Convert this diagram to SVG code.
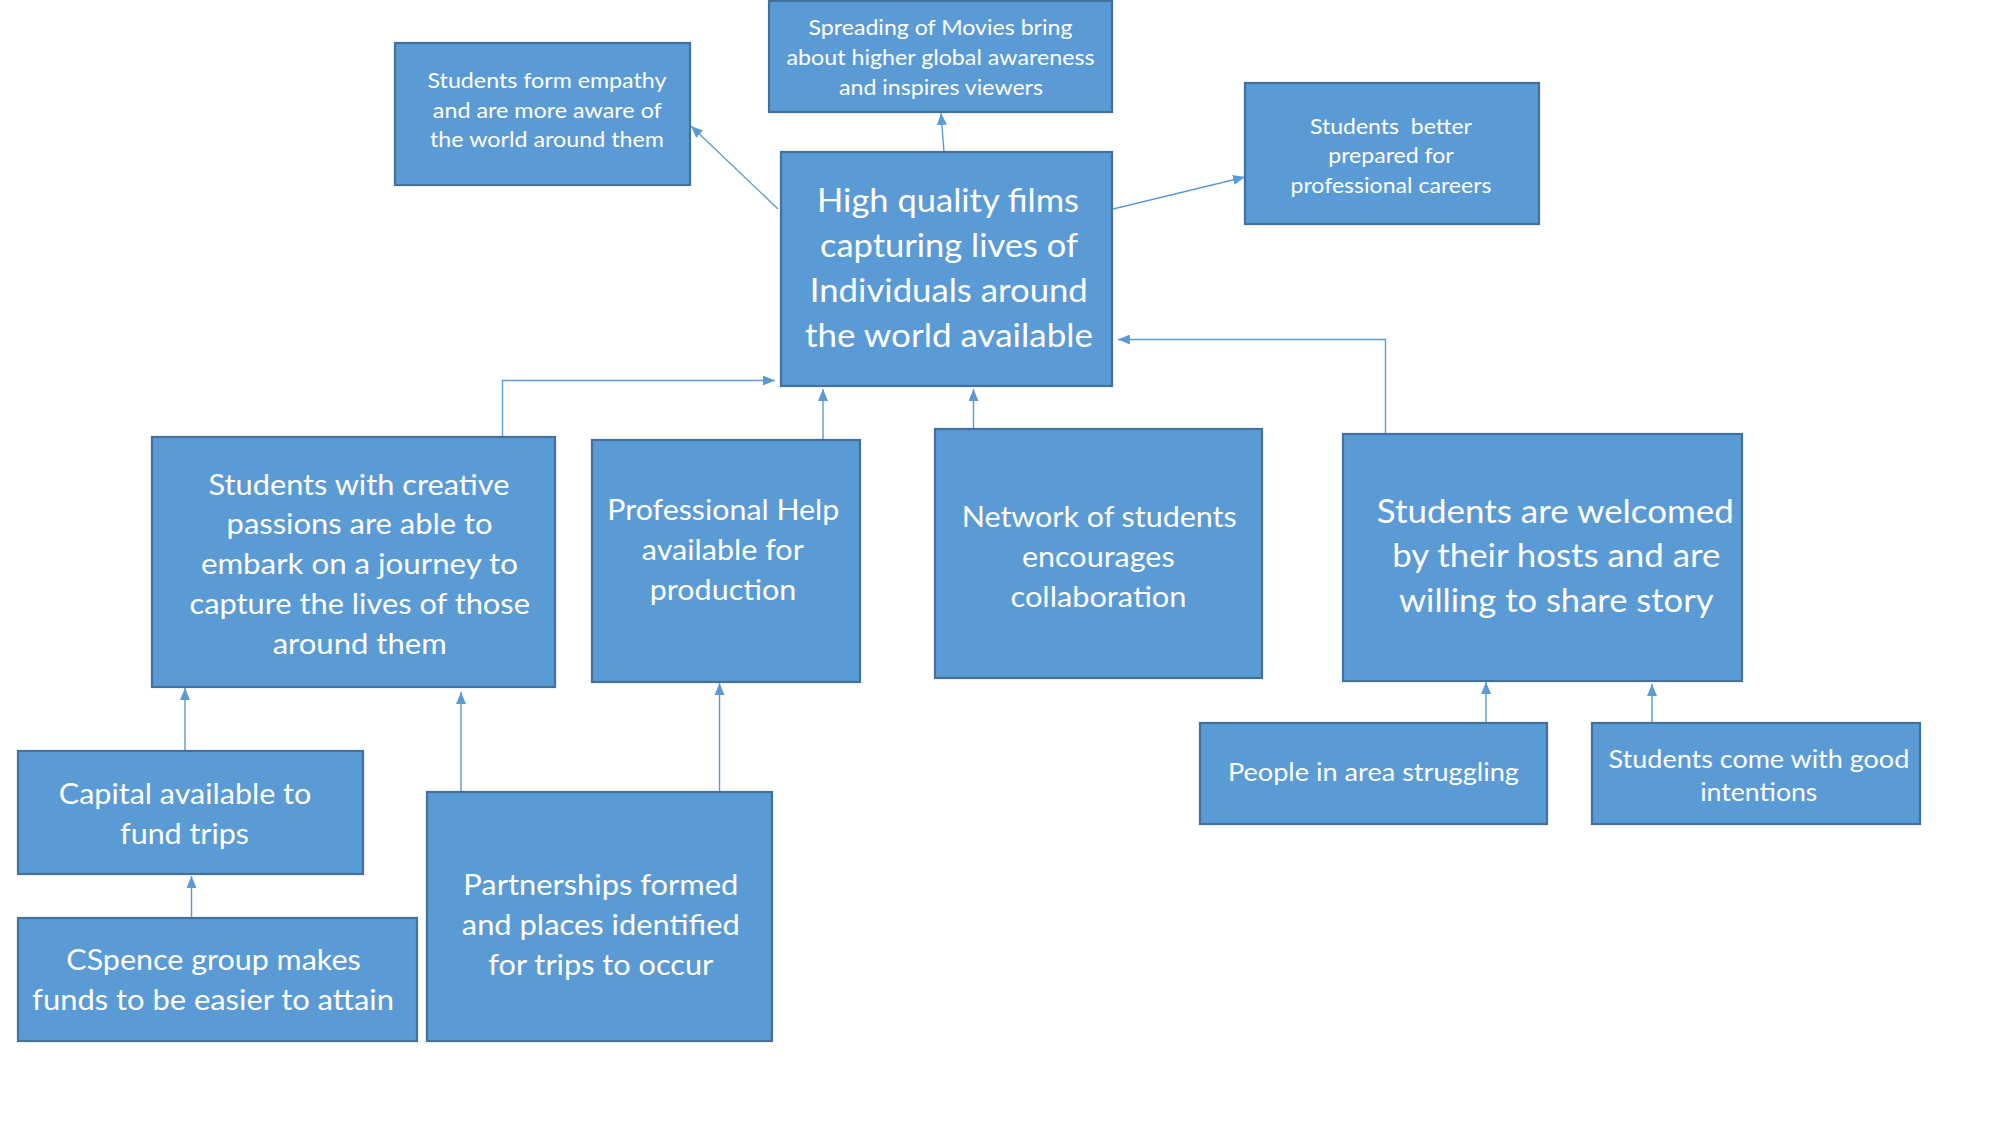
<svg xmlns="http://www.w3.org/2000/svg" width="2000" height="1125" viewBox="0 0 2000 1125">
<style>
.box{fill:#5B9BD5;stroke:#41719C;stroke-width:2.2}
.t{font-family:Lato,"Open Sans","DejaVu Sans",sans-serif;fill:#FFFFFF;text-anchor:middle}
.s22{font-size:22px}
.s25{font-size:25px}
.s29{font-size:29px}
.s33{font-size:33px}
.c{fill:none;stroke:#5B9BD5;stroke-width:1.4}
</style>
<defs>
<marker id="ah" markerUnits="userSpaceOnUse" markerWidth="12" markerHeight="10" refX="12" refY="5" orient="auto">
<path d="M0,0 L12,5 L0,10 z" fill="#5B9BD5"/>
</marker>
</defs>
<rect width="2000" height="1125" fill="#FFFFFF"/>
<g id="connectors">
<path class="c" marker-end="url(#ah)" d="M944,152 L941,113"/>
<path class="c" marker-end="url(#ah)" d="M778,209 L691,126"/>
<path class="c" marker-end="url(#ah)" d="M1113,209 L1245,177"/>
<path class="c" marker-end="url(#ah)" d="M1385.5,434 L1385.5,339.5 L1118,339.5"/>
<path class="c" marker-end="url(#ah)" d="M502.5,437 L502.5,380.5 L775,380.5"/>
<path class="c" marker-end="url(#ah)" d="M823,440 L823,389"/>
<path class="c" marker-end="url(#ah)" d="M973.5,429 L973.5,389"/>
<path class="c" marker-end="url(#ah)" d="M185,751 L185,688"/>
<path class="c" marker-end="url(#ah)" d="M461,792 L461,692"/>
<path class="c" marker-end="url(#ah)" d="M719.5,792 L719.5,683"/>
<path class="c" marker-end="url(#ah)" d="M191.5,918 L191.5,876"/>
<path class="c" marker-end="url(#ah)" d="M1486,723 L1486,682"/>
<path class="c" marker-end="url(#ah)" d="M1652,723 L1652,684"/>
</g>
<g id="empathy">
<rect class="box" x="395" y="43" width="295" height="142"/>
<text class="t s22" x="547" y="88" textLength="239" lengthAdjust="spacingAndGlyphs">Students form empathy</text>
<text class="t s22" x="547.3" y="117.5" textLength="229" lengthAdjust="spacingAndGlyphs">and are more aware of</text>
<text class="t s22" x="547" y="147" textLength="234" lengthAdjust="spacingAndGlyphs">the world around them</text>
</g>
<g id="spreading">
<rect class="box" x="769" y="1" width="343" height="111"/>
<text class="t s22" x="940.5" y="35" textLength="264" lengthAdjust="spacingAndGlyphs">Spreading of Movies bring</text>
<text class="t s22" x="940.5" y="65" textLength="308" lengthAdjust="spacingAndGlyphs">about higher global awareness</text>
<text class="t s22" x="941" y="95" textLength="204" lengthAdjust="spacingAndGlyphs">and inspires viewers</text>
</g>
<g id="careers">
<rect class="box" x="1245" y="83" width="294" height="141"/>
<text class="t s22" x="1391" y="133.5" textLength="162" lengthAdjust="spacingAndGlyphs" xml:space="preserve">Students  better</text>
<text class="t s22" x="1391" y="162.5" textLength="125.5" lengthAdjust="spacingAndGlyphs">prepared for</text>
<text class="t s22" x="1391" y="192.5" textLength="201" lengthAdjust="spacingAndGlyphs">professional careers</text>
</g>
<g id="central">
<rect class="box" x="781" y="152" width="331" height="234"/>
<text class="t s33" x="948" y="212" textLength="262" lengthAdjust="spacingAndGlyphs">High quality films</text>
<text class="t s33" x="949" y="257" textLength="258" lengthAdjust="spacingAndGlyphs">capturing lives of</text>
<text class="t s33" x="948.8" y="302" textLength="278" lengthAdjust="spacingAndGlyphs">Individuals around</text>
<text class="t s33" x="949" y="347" textLength="288" lengthAdjust="spacingAndGlyphs">the world available</text>
</g>
<g id="creative">
<rect class="box" x="152" y="437" width="403" height="250"/>
<text class="t s29" x="359" y="495" textLength="301" lengthAdjust="spacingAndGlyphs">Students with creative</text>
<text class="t s29" x="359.6" y="534" textLength="266" lengthAdjust="spacingAndGlyphs">passions are able to</text>
<text class="t s29" x="359.4" y="573.5" textLength="317" lengthAdjust="spacingAndGlyphs">embark on a journey to</text>
<text class="t s29" x="359.7" y="613.5" textLength="340.5" lengthAdjust="spacingAndGlyphs">capture the lives of those</text>
<text class="t s29" x="359.7" y="654" textLength="174" lengthAdjust="spacingAndGlyphs">around them</text>
</g>
<g id="professional">
<rect class="box" x="592" y="440" width="268" height="242"/>
<text class="t s29" x="723.3" y="519.5" textLength="232" lengthAdjust="spacingAndGlyphs">Professional Help</text>
<text class="t s29" x="722.8" y="559.5" textLength="162" lengthAdjust="spacingAndGlyphs">available for</text>
<text class="t s29" x="723" y="599.5" textLength="146.4" lengthAdjust="spacingAndGlyphs">production</text>
</g>
<g id="network">
<rect class="box" x="935" y="429" width="327" height="249"/>
<text class="t s29" x="1099.2" y="527" textLength="275" lengthAdjust="spacingAndGlyphs">Network of students</text>
<text class="t s29" x="1098.3" y="567" textLength="152.7" lengthAdjust="spacingAndGlyphs">encourages</text>
<text class="t s29" x="1098.5" y="607" textLength="176" lengthAdjust="spacingAndGlyphs">collaboration</text>
</g>
<g id="welcomed">
<rect class="box" x="1343" y="434" width="399" height="247"/>
<text class="t s33" x="1555.3" y="523" textLength="357" lengthAdjust="spacingAndGlyphs">Students are welcomed</text>
<text class="t s33" x="1556.3" y="567" textLength="328" lengthAdjust="spacingAndGlyphs">by their hosts and are</text>
<text class="t s33" x="1556.3" y="612" textLength="314.7" lengthAdjust="spacingAndGlyphs">willing to share story</text>
</g>
<g id="capital">
<rect class="box" x="18" y="751" width="345" height="123"/>
<text class="t s29" x="185" y="804" textLength="252.5" lengthAdjust="spacingAndGlyphs">Capital available to</text>
<text class="t s29" x="184.5" y="843.5" textLength="129" lengthAdjust="spacingAndGlyphs">fund trips</text>
</g>
<g id="cspence">
<rect class="box" x="18" y="918" width="399" height="123"/>
<text class="t s29" x="213.5" y="969.5" textLength="294.4" lengthAdjust="spacingAndGlyphs">CSpence group makes</text>
<text class="t s29" x="213" y="1009.5" textLength="361.8" lengthAdjust="spacingAndGlyphs">funds to be easier to attain</text>
</g>
<g id="partnerships">
<rect class="box" x="427" y="792" width="345" height="249"/>
<text class="t s29" x="600.8" y="895" textLength="275" lengthAdjust="spacingAndGlyphs">Partnerships formed</text>
<text class="t s29" x="600.8" y="935" textLength="278" lengthAdjust="spacingAndGlyphs">and places identified</text>
<text class="t s29" x="600.8" y="975" textLength="225" lengthAdjust="spacingAndGlyphs">for trips to occur</text>
</g>
<g id="people">
<rect class="box" x="1200" y="723" width="347" height="101"/>
<text class="t s25" x="1373.4" y="781" textLength="291" lengthAdjust="spacingAndGlyphs">People in area struggling</text>
</g>
<g id="intentions">
<rect class="box" x="1592" y="723" width="328" height="101"/>
<text class="t s25" x="1758.9" y="767.5" textLength="300.7" lengthAdjust="spacingAndGlyphs">Students come with good</text>
<text class="t s25" x="1758.8" y="801" textLength="117.2" lengthAdjust="spacingAndGlyphs">intentions</text>
</g>
</svg>
